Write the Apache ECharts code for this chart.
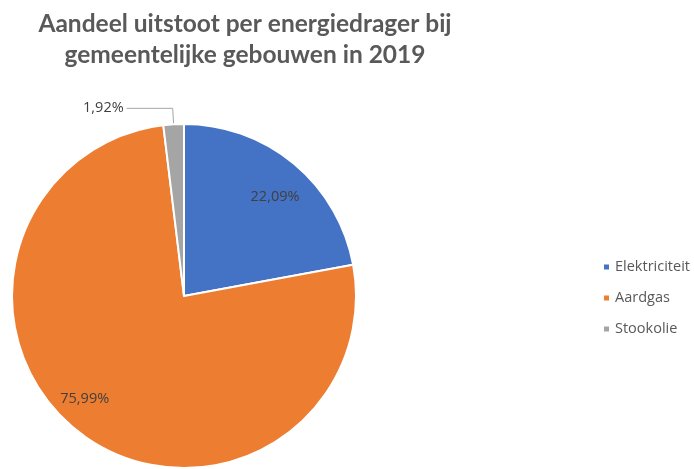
<!DOCTYPE html>
<html>
<head>
<meta charset="utf-8">
<script src="https://cdn.jsdelivr.net/npm/echarts@6/dist/echarts.min.js"></script>
<style>
  html, body { margin: 0; padding: 0; background: #fff; }
  #chart { width: 694px; height: 469px; }
</style>
</head>
<body>
<div id="chart"></div>
<script>
// categorieën en aandeel (%) per energiedrager
const categories = ['Elektriciteit', 'Aardgas', 'Stookolie']
const shares = [22.09, 75.99, 1.92]
const colors = ['#4472C4', '#ED7D31', '#A5A5A5']
// welke labels buiten de taart staan
const outsideLabel = [false, false, true]
// kleine verschuiving van de labels binnen de taart, zoals in Excel
const labelShift = [[0, 10], [-15, -12], [0, 0]]

const fmt = v => v.toFixed(2).replace('.', ',') + '%'

const chart = echarts.init(document.getElementById('chart'))

const center = [184, 296]
const radius = 172

const pieData = categories.map((name, i) => ({
  name: name,
  value: shares[i],
  itemStyle: { color: colors[i] },
  label: { show: outsideLabel[i] },
  labelLine: { show: outsideLabel[i] }
}))

// transparante ring, alleen voor de labels binnen de taart (verder naar buiten)
const ringData = categories.map((name, i) => ({
  name: name,
  value: shares[i],
  label: { show: !outsideLabel[i] }
}))

chart.setOption({
  animation: false,
  textStyle: { fontFamily: 'Open Sans' },
  title: {
    text: 'Aandeel uitstoot per energiedrager bij\ngemeentelijke gebouwen in 2019',
    left: 240,
    top: 4,
    textAlign: 'center',
    textStyle: {
      fontFamily: 'Lato',
      fontSize: 24.5,
      fontWeight: 'bold',
      color: '#595959',
      lineHeight: 31
    }
  },
  legend: {
    orient: 'vertical',
    left: 597,
    top: 253,
    icon: 'rect',
    itemWidth: 7,
    itemHeight: 7,
    itemGap: 13,
    data: categories,
    textStyle: { fontSize: 14.5, color: '#595959', lineHeight: 18, fontFamily: 'Open Sans' }
  },
  series: [
    {
      type: 'pie',
      center: center,
      radius: radius,
      startAngle: 90,
      clockwise: true,
      silent: true,
      itemStyle: { borderColor: '#fff', borderWidth: 2 },
      label: {
        position: 'outside',
        formatter: p => fmt(p.value),
        fontSize: 14.5,
        color: '#404040',
        distanceToLabelLine: 3
      },
      labelLine: {
        length: 16,
        length2: 46,
        lineStyle: { color: '#A6A6A6', width: 1 }
      },
      data: pieData
    },
    {
      type: 'pie',
      center: center,
      radius: [radius * 0.62, radius],
      startAngle: 90,
      clockwise: true,
      silent: true,
      itemStyle: { color: 'rgba(0,0,0,0)' },
      label: {
        position: 'inside',
        formatter: p => fmt(p.value),
        fontSize: 14.5,
        color: '#404040'
      },
      labelLine: { show: false },
      labelLayout: p => ({ dx: labelShift[p.dataIndex][0], dy: labelShift[p.dataIndex][1] }),
      data: ringData
    }
  ]
})
</script>
</body>
</html>
